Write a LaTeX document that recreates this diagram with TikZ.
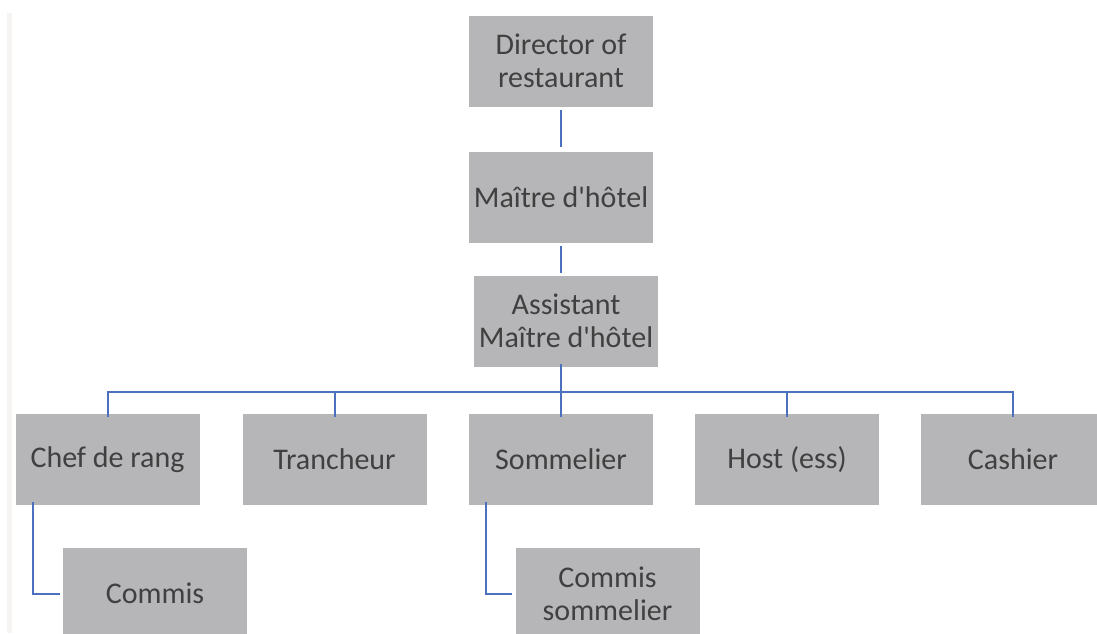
\documentclass[tikz,border=0pt]{standalone}
\usepackage{fontspec}
\setmainfont{Carlito}
\definecolor{boxgrey}{RGB}{182,182,184}
\definecolor{textgrey}{RGB}{64,64,64}
\definecolor{linkblue}{RGB}{74,112,190}
\definecolor{stripgrey}{RGB}{246,244,242}
\newcommand{\apos}{\textquotesingle}
\tikzset{
    box/.style={rectangle,fill=boxgrey,text=textgrey,align=center,
        minimum width=184pt,minimum height=91pt,inner sep=0pt,
        font=\fontsize{30}{33}\selectfont},
    link/.style={draw=linkblue,line width=2pt}
}
\begin{document}
\begin{tikzpicture}[x=1pt,y=-1pt]
    \useasboundingbox (0,0) rectangle (1097,633);
    \clip (0,0) rectangle (1097,633);
    \fill[stripgrey] (7,13) rectangle (12,633);

    \node[box] (dir) at (561,61) {Director of\\restaurant};
    \node[box] (mai) at (561,197) {Maître d\apos hôtel};
    \node[box] (asst) at (566,321) {Assistant\\Maître d\apos hôtel};

    \node[box] (chef) at (107.5,459.5) {Chef de rang};
    \node[box] (tran) at (334.5,459.5) {Trancheur};
    \node[box] (som) at (561,459.5) {Sommelier};
    \node[box] (host) at (787,459.5) {Host (ess)};
    \node[box] (cash) at (1013,459.5) {Cashier};

    \node[box] (com) at (155,593.5) {Commis};
    \node[box] (comsom) at (607.5,593.5) {Commis\\sommelier};

    \coordinate (bus) at (561,392);

    \path[link] (dir) edge[shorten <=3pt,shorten >=4pt] (mai);
    \path[link] (mai.south) edge[shorten <=3pt,shorten >=2pt] (mai.south |- asst.north);
    \draw[link] ([yshift=3pt]asst.south -| bus) -- (bus);
    \draw[link] ([yshift=-3pt]chef.north) -- (chef.north |- bus) -- (cash.north |- bus) -- ([yshift=-3pt]cash.north);
    \draw[link] ([yshift=-3pt]tran.north) -- (tran.north |- bus);
    \draw[link] ([yshift=-3pt]som.north) -- (som.north |- bus);
    \draw[link] ([yshift=-3pt]host.north) -- (host.north |- bus);

    \draw[link] ([xshift=18pt,yshift=3pt]chef.south west) |- ([xshift=-3pt]com.west);
    \draw[link] ([xshift=17pt,yshift=3pt]som.south west) |- ([xshift=-3pt]comsom.west);
\end{tikzpicture}
\end{document}
